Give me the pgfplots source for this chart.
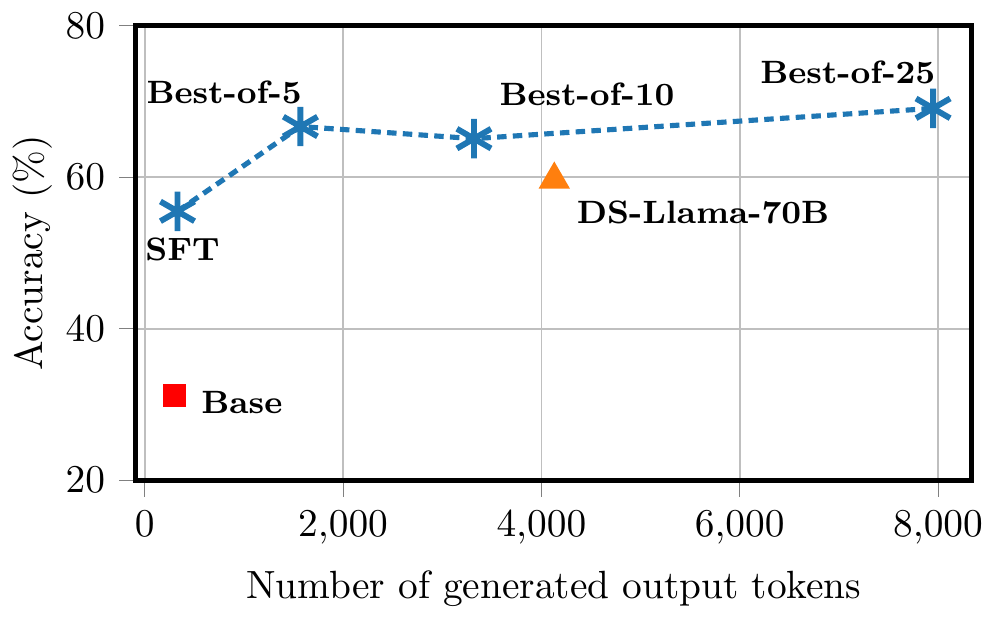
\documentclass[border=0pt]{standalone}
\usepackage{pgfplots}
\pgfplotsset{compat=1.18}
\definecolor{tabblue}{HTML}{1F77B4}
\definecolor{taborange}{HTML}{FF7F0E}
\begin{document}
\begin{tikzpicture}
\begin{axis}[
  scale only axis, width=212.3pt, height=115.4pt,
  xmin=-90, xmax=8340, ymin=20, ymax=80,
  xtick={0,2000,4000,6000,8000}, ytick={20,40,60,80},
  tick align=outside, tick pos=left,
  grid=major, grid style={black!25},
  axis line style={line width=1.3pt},
  xlabel={Number of generated output tokens},
  ylabel={Accuracy (\%)},
  ylabel style={yshift=-3.5pt},
  xlabel style={yshift=0pt},
]
\addplot[tabblue, line width=1.3pt, dash pattern=on 2.4pt off 1.6pt,
  mark=asterisk, mark size=5pt, mark options={solid, line width=1.5pt}]
  coordinates {(330,55.5) (1570,66.7) (3320,65.1) (7950,69.1)};
\addplot[only marks, mark=triangle*, mark size=4.2pt, color=taborange]
  coordinates {(4130,59.7)};
\addplot[only marks, mark=square*, mark size=2.7pt, color=red]
  coordinates {(300,31.2)};
\tikzset{lbl/.style={font=\fontsize{8.2}{10}\selectfont\bfseries}}
\node[lbl] at (axis cs:380,50.5) {SFT};
\node[lbl] at (axis cs:800,71.2) {Best-of-5};
\node[lbl] at (axis cs:4460,71.0) {Best-of-10};
\node[lbl] at (axis cs:7090,73.8) {Best-of-25};
\node[lbl] at (axis cs:5630,55.3) {DS-Llama-70B};
\node[lbl] at (axis cs:980,30.2) {Base};
\end{axis}
\end{tikzpicture}
\end{document}
